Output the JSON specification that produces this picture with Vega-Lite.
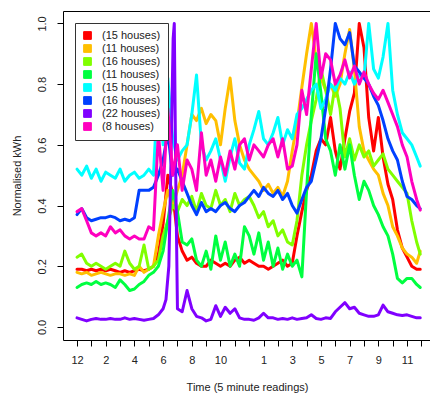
{
  "$schema": "https://vega.github.io/schema/vega-lite/v6.json",
  "width": 368,
  "height": 329,
  "autosize": "none",
  "padding": {"left": 63, "top": 11, "right": 0, "bottom": 56},
  "config": {
    "font": "Liberation Sans",
    "view": {"stroke": "#000", "strokeWidth": 1},
    "axis": {"grid": false, "domain": false, "tickColor": "#000", "labelColor": "#222", "titleColor": "#222", "labelFontSize": 11, "titleFontSize": 11, "titleFontWeight": "normal", "tickSize": 6}
  },
  "data": {"values": [
    {"t":0,"a":0.19,"b":0.18,"c":0.23,"d":0.13,"e":0.52,"f":0.37,"g":0.03,"h":0.38},
    {"t":0.33,"a":0.19,"b":0.175,"c":0.24,"d":0.14,"e":0.5,"f":0.39,"g":0.025,"h":0.39},
    {"t":0.67,"a":0.185,"b":0.18,"c":0.21,"d":0.145,"e":0.53,"f":0.36,"g":0.02,"h":0.35},
    {"t":1,"a":0.19,"b":0.17,"c":0.2,"d":0.14,"e":0.49,"f":0.35,"g":0.025,"h":0.31},
    {"t":1.33,"a":0.185,"b":0.175,"c":0.21,"d":0.15,"e":0.52,"f":0.355,"g":0.028,"h":0.3},
    {"t":1.67,"a":0.19,"b":0.18,"c":0.2,"d":0.14,"e":0.48,"f":0.36,"g":0.025,"h":0.31},
    {"t":2,"a":0.185,"b":0.175,"c":0.19,"d":0.145,"e":0.51,"f":0.36,"g":0.025,"h":0.3},
    {"t":2.33,"a":0.19,"b":0.17,"c":0.2,"d":0.14,"e":0.5,"f":0.365,"g":0.028,"h":0.33},
    {"t":2.67,"a":0.185,"b":0.175,"c":0.21,"d":0.13,"e":0.49,"f":0.36,"g":0.025,"h":0.31},
    {"t":3,"a":0.18,"b":0.175,"c":0.2,"d":0.155,"e":0.52,"f":0.35,"g":0.025,"h":0.32},
    {"t":3.33,"a":0.185,"b":0.17,"c":0.25,"d":0.14,"e":0.48,"f":0.355,"g":0.03,"h":0.3},
    {"t":3.67,"a":0.18,"b":0.175,"c":0.21,"d":0.12,"e":0.5,"f":0.35,"g":0.025,"h":0.29},
    {"t":4,"a":0.185,"b":0.17,"c":0.19,"d":0.125,"e":0.51,"f":0.36,"g":0.028,"h":0.3},
    {"t":4.33,"a":0.19,"b":0.2,"c":0.2,"d":0.14,"e":0.49,"f":0.45,"g":0.025,"h":0.29},
    {"t":4.67,"a":0.185,"b":0.18,"c":0.27,"d":0.15,"e":0.5,"f":0.45,"g":0.022,"h":0.29},
    {"t":5,"a":0.19,"b":0.19,"c":0.19,"d":0.17,"e":0.52,"f":0.45,"g":0.025,"h":0.33},
    {"t":5.33,"a":0.2,"b":0.2,"c":0.2,"d":0.18,"e":0.5,"f":0.46,"g":0.028,"h":0.32},
    {"t":5.67,"a":0.24,"b":0.3,"c":0.22,"d":0.2,"e":0.82,"f":0.5,"g":0.04,"h":0.64},
    {"t":6,"a":0.34,"b":0.38,"c":0.3,"d":0.25,"e":0.6,"f":0.55,"g":0.06,"h":0.45},
    {"t":6.2,"g":0.09},
    {"t":6.33,"a":0.5,"b":0.45,"c":0.35,"d":0.35,"e":0.82,"f":0.64,"h":0.72},
    {"t":6.4,"g":0.2},
    {"t":6.55,"g":0.55},
    {"t":6.67,"a":0.44,"b":0.4,"c":0.4,"d":0.45,"e":0.62,"f":0.5,"h":0.5},
    {"t":6.7,"g":0.95},
    {"t":6.78,"g":1.0},
    {"t":6.88,"g":0.5},
    {"t":7,"a":0.3,"b":0.45,"c":0.38,"d":0.38,"e":0.55,"f":0.52,"g":0.06,"h":0.6},
    {"t":7.33,"a":0.25,"b":0.5,"c":0.42,"d":0.28,"e":0.58,"f":0.48,"g":0.05,"h":0.45},
    {"t":7.67,"a":0.22,"b":0.6,"c":0.4,"d":0.27,"e":0.6,"f":0.44,"g":0.12,"h":0.55},
    {"t":8,"a":0.23,"b":0.7,"c":0.43,"d":0.29,"e":0.7,"f":0.4,"g":0.06,"h":0.52},
    {"t":8.33,"a":0.21,"b":0.68,"c":0.38,"d":0.22,"e":0.83,"f":0.37,"g":0.035,"h":0.45},
    {"t":8.67,"a":0.2,"b":0.72,"c":0.44,"d":0.2,"e":0.6,"f":0.41,"g":0.03,"h":0.64},
    {"t":9,"a":0.2,"b":0.67,"c":0.4,"d":0.25,"e":0.55,"f":0.38,"g":0.02,"h":0.5},
    {"t":9.33,"a":0.22,"b":0.7,"c":0.39,"d":0.19,"e":0.58,"f":0.39,"g":0.025,"h":0.55},
    {"t":9.67,"a":0.21,"b":0.68,"c":0.45,"d":0.3,"e":0.62,"f":0.38,"g":0.07,"h":0.48},
    {"t":10,"a":0.2,"b":0.6,"c":0.4,"d":0.22,"e":0.55,"f":0.4,"g":0.035,"h":0.56},
    {"t":10.33,"a":0.21,"b":0.72,"c":0.42,"d":0.28,"e":0.48,"f":0.41,"g":0.065,"h":0.5},
    {"t":10.67,"a":0.2,"b":0.82,"c":0.38,"d":0.2,"e":0.56,"f":0.39,"g":0.045,"h":0.58},
    {"t":11,"a":0.22,"b":0.68,"c":0.44,"d":0.24,"e":0.62,"f":0.38,"g":0.06,"h":0.52},
    {"t":11.33,"a":0.23,"b":0.6,"c":0.4,"d":0.2,"e":0.54,"f":0.4,"g":0.03,"h":0.6},
    {"t":11.67,"a":0.21,"b":0.55,"c":0.42,"d":0.33,"e":0.52,"f":0.41,"g":0.025,"h":0.62},
    {"t":12,"a":0.22,"b":0.52,"c":0.43,"d":0.3,"e":0.6,"f":0.43,"g":0.025,"h":0.55},
    {"t":12.33,"a":0.21,"b":0.5,"c":0.4,"d":0.24,"e":0.65,"f":0.45,"g":0.022,"h":0.6},
    {"t":12.67,"a":0.2,"b":0.48,"c":0.36,"d":0.31,"e":0.71,"f":0.43,"g":0.03,"h":0.58},
    {"t":13,"a":0.2,"b":0.45,"c":0.38,"d":0.22,"e":0.62,"f":0.46,"g":0.045,"h":0.56},
    {"t":13.33,"a":0.19,"b":0.47,"c":0.33,"d":0.28,"e":0.6,"f":0.44,"g":0.03,"h":0.6},
    {"t":13.67,"a":0.2,"b":0.44,"c":0.35,"d":0.2,"e":0.64,"f":0.43,"g":0.03,"h":0.62},
    {"t":14,"a":0.21,"b":0.46,"c":0.3,"d":0.26,"e":0.69,"f":0.45,"g":0.025,"h":0.56},
    {"t":14.33,"a":0.22,"b":0.43,"c":0.32,"d":0.19,"e":0.6,"f":0.42,"g":0.028,"h":0.62},
    {"t":14.67,"a":0.2,"b":0.48,"c":0.28,"d":0.24,"e":0.65,"f":0.44,"g":0.025,"h":0.52},
    {"t":15,"a":0.21,"b":0.58,"c":0.27,"d":0.2,"e":0.62,"f":0.4,"g":0.03,"h":0.53},
    {"t":15.33,"a":0.3,"b":0.67,"c":0.35,"d":0.22,"e":0.7,"f":0.375,"g":0.025,"h":0.6},
    {"t":15.67,"a":0.38,"b":0.79,"c":0.5,"d":0.165,"e":0.72,"f":0.42,"g":0.028,"h":0.78},
    {"t":16,"a":0.45,"b":0.9,"c":0.6,"d":0.45,"e":0.75,"f":0.46,"g":0.03,"h":0.7},
    {"t":16.33,"a":0.5,"b":1.0,"c":0.68,"d":0.7,"e":0.78,"f":0.48,"g":0.04,"h":0.85},
    {"t":16.67,"a":0.58,"b":0.88,"c":0.75,"d":0.9,"e":0.8,"f":0.55,"g":0.028,"h":1.0},
    {"t":17,"a":0.62,"b":0.82,"c":0.85,"d":0.77,"e":0.72,"f":0.62,"g":0.025,"h":0.82},
    {"t":17.33,"a":0.6,"b":0.78,"c":0.78,"d":0.62,"e":0.75,"f":0.72,"g":0.03,"h":0.9},
    {"t":17.67,"a":0.69,"b":0.8,"c":0.7,"d":0.58,"e":0.8,"f":0.85,"g":0.028,"h":0.88},
    {"t":18,"a":0.58,"b":0.76,"c":0.8,"d":0.5,"e":0.78,"f":1.0,"g":0.05,"h":0.8},
    {"t":18.33,"a":0.52,"b":0.8,"c":0.72,"d":0.6,"e":0.82,"f":0.95,"g":0.065,"h":0.83},
    {"t":18.67,"a":0.62,"b":0.9,"c":0.56,"d":0.52,"e":0.8,"f":0.93,"g":0.08,"h":0.88},
    {"t":19,"a":0.71,"b":0.98,"c":0.62,"d":0.6,"e":0.84,"f":0.97,"g":0.06,"h":0.82},
    {"t":19.33,"a":0.77,"b":0.85,"c":0.55,"d":0.5,"e":0.8,"f":0.86,"g":0.065,"h":0.86},
    {"t":19.67,"a":1.0,"b":0.66,"c":0.6,"d":0.42,"e":0.83,"f":0.84,"g":0.045,"h":0.8},
    {"t":20,"a":0.92,"b":0.58,"c":0.56,"d":0.48,"e":0.82,"f":0.82,"g":0.04,"h":0.84},
    {"t":20.33,"a":0.69,"b":0.55,"c":0.58,"d":0.45,"e":1.0,"f":0.8,"g":0.035,"h":0.8},
    {"t":20.67,"a":0.58,"b":0.52,"c":0.53,"d":0.4,"e":0.85,"f":0.76,"g":0.035,"h":0.77},
    {"t":21,"a":0.69,"b":0.5,"c":0.55,"d":0.37,"e":0.82,"f":0.73,"g":0.04,"h":0.75},
    {"t":21.33,"a":0.56,"b":0.44,"c":0.57,"d":0.33,"e":0.89,"f":0.68,"g":0.072,"h":0.78},
    {"t":21.67,"a":0.47,"b":0.4,"c":0.52,"d":0.3,"e":1.0,"f":0.62,"g":0.05,"h":0.74},
    {"t":22,"a":0.42,"b":0.33,"c":0.5,"d":0.24,"e":0.78,"f":0.58,"g":0.045,"h":0.7},
    {"t":22.33,"a":0.32,"b":0.3,"c":0.48,"d":0.16,"e":0.7,"f":0.55,"g":0.04,"h":0.66},
    {"t":22.67,"a":0.26,"b":0.26,"c":0.46,"d":0.145,"e":0.64,"f":0.48,"g":0.038,"h":0.6},
    {"t":23,"a":0.23,"b":0.24,"c":0.44,"d":0.16,"e":0.62,"f":0.43,"g":0.04,"h":0.56},
    {"t":23.33,"a":0.2,"b":0.23,"c":0.35,"d":0.16,"e":0.6,"f":0.42,"g":0.035,"h":0.48},
    {"t":23.67,"a":0.19,"b":0.21,"c":0.28,"d":0.14,"e":0.56,"f":0.4,"g":0.03,"h":0.42},
    {"t":23.92,"a":0.19,"b":0.25,"c":0.24,"d":0.13,"e":0.53,"f":0.39,"g":0.03,"h":0.385}
  ]},
  "transform": [
    {"fold": ["a","b","c","d","e","f","g","h"], "as": ["s","v"]},
    {"filter": "isValid(datum.v) && isFinite(datum.v)"}
  ],
  "mark": {"type": "line", "strokeWidth": 3, "strokeJoin": "round", "strokeCap": "round", "clip": true},
  "encoding": {
    "x": {
      "field": "t", "type": "quantitative",
      "scale": {"domain": [-0.976, 24.67], "nice": false, "zero": false},
      "axis": {
        "title": "Time (5 minute readings)",
        "values": [0,1,2,3,4,5,6,7,8,9,10,11,12,13,14,15,16,17,18,19,20,21,22,23,24],
        "labelExpr": "indexof([0,2,4,6,8,10,13,15,17,19,21,23], datum.value) >= 0 ? (datum.value % 12 == 0 ? '12' : '' + (datum.value % 12)) : ''",
        "labelPadding": 8,
        "titlePadding": 16,
        "labelFlush": false,
        "labelOverlap": false
      }
    },
    "y": {
      "field": "v", "type": "quantitative",
      "scale": {"domain": [-0.043, 1.041], "nice": false, "zero": false},
      "axis": {
        "title": "Normalised kWh",
        "values": [0, 0.2, 0.4, 0.6, 0.8, 1.0],
        "format": ".1f",
        "labelAngle": -90,
        "labelAlign": "center",
        "labelBaseline": "bottom",
        "labelPadding": 10,
        "titlePadding": 14
      }
    },
    "color": {
      "field": "s", "type": "nominal",
      "scale": {
        "domain": ["a","b","c","d","e","f","g","h"],
        "range": ["#FF0000","#FFBF00","#80FF00","#00FF40","#00FFFF","#0040FF","#8000FF","#FF00BF"]
      },
      "legend": {
        "title": null,
        "orient": "none",
        "legendX": 12,
        "legendY": 12,
        "direction": "vertical",
        "symbolType": "square",
        "symbolSize": 60,
        "symbolStrokeWidth": 1,
        "labelFontSize": 11,
        "labelColor": "#222",
        "labelOffset": 9,
        "rowPadding": 0,
        "padding": 7,
        "strokeColor": "#333",
        "fillColor": "#ffffff",
        "labelExpr": "['(15 houses)','(11 houses)','(16 houses)','(11 houses)','(15 houses)','(16 houses)','(22 houses)','(8 houses)'][indexof(['a','b','c','d','e','f','g','h'], datum.label)]",
        "encode": {
          "symbols": {"update": {"fill": {"scale": "color", "field": "value"}, "stroke": {"value": "#222"}, "strokeWidth": {"value": 1}}}
        }
      }
    }
  }
}
